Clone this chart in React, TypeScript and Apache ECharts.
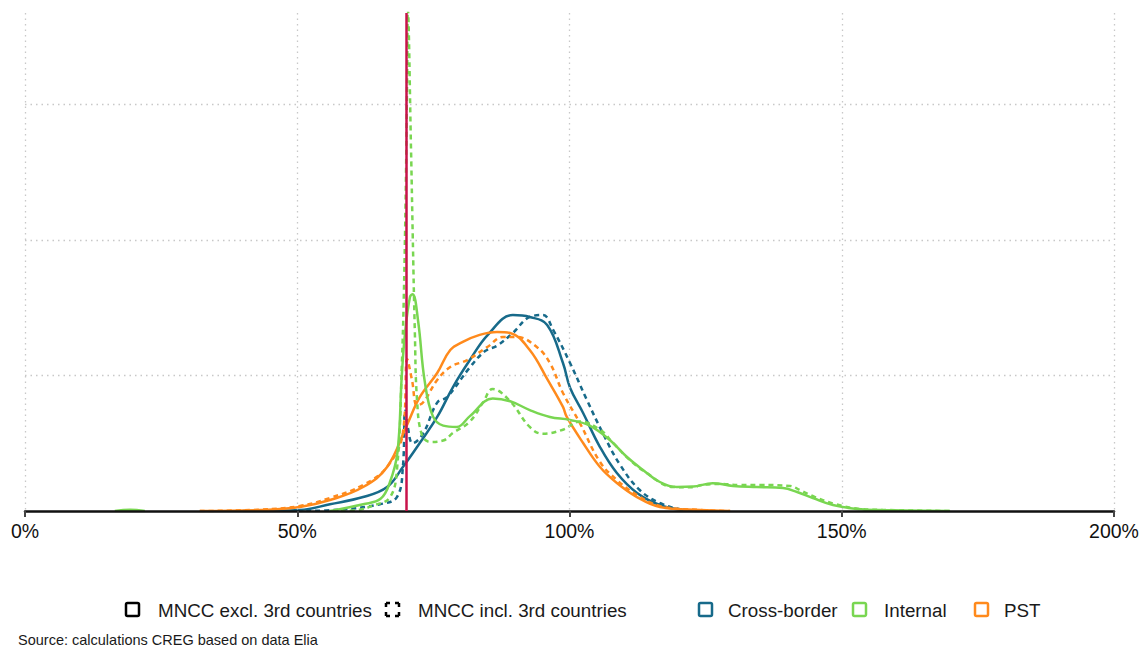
import React, { useEffect, useRef } from "react";
import * as echarts from "echarts";

// x in %, y = density (arbitrary units, one horizontal gridline per unit)
const crossBorderExcl: [number, number][] = [
  [40, 0], [50.5, 0.008], [56.0, 0.05], [62.1, 0.103], [66.5, 0.177], [69.4, 0.325],
  [72.5, 0.502], [75.7, 0.694], [78.6, 0.915], [81.7, 1.114], [85.0, 1.3],
  [89.6, 1.446], [92.7, 1.432], [95.9, 1.373], [98.8, 1.092], [100.1, 0.91],
  [102.5, 0.723], [105.6, 0.472], [108.7, 0.28], [112.4, 0.133], [116.6, 0.044],
  [120.8, 0.007], [124, 0],
];
const crossBorderIncl: [number, number][] = [
  [50, 0], [57.8, 0.01], [65.2, 0.05], [68.3, 0.103], [69.4, 0.325], [69.8, 0.74], [70.3, 0.62],
  [71.2, 0.5], [73.1, 0.57], [75.7, 0.8], [77.5, 0.84], [81.7, 1.06], [84.5, 1.18],
  [86.7, 1.22], [89.6, 1.314], [92.7, 1.432], [95.1, 1.446], [97.0, 1.336],
  [100.1, 1.092], [103.2, 0.819], [106.1, 0.576], [109.3, 0.34], [112.9, 0.155],
  [116.6, 0.059], [121.2, 0.007], [124, 0],
];
const internalExcl: [number | string, number | string][] = [
  [16.5, 0], [19.3, 0.01], [22, 0], [30, "-"], [56.0, 0], [62.1, 0.05], [65.3, 0.09],
  [67.0, 0.21], [68.4, 0.43], [69.2, 1.0], [69.8, 1.314], [70.7, 1.58], [71.2, 1.6],
  [72.2, 1.4], [73.4, 0.96], [74.9, 0.7], [76.8, 0.63], [79.3, 0.62],
  [81.7, 0.7], [85.9, 0.83], [89.1, 0.81], [92.7, 0.745], [96.4, 0.694],
  [100.1, 0.672], [103.7, 0.63], [107.4, 0.524], [110.5, 0.4], [113.5, 0.303],
  [116.6, 0.214], [119.7, 0.177], [122.7, 0.18], [126.3, 0.205], [130.0, 0.185],
  [134.4, 0.177], [139.2, 0.17], [141.8, 0.14], [144.7, 0.096], [148.4, 0.044],
  [152.8, 0.015], [157.5, 0.007], [169.9, 0],
];
const internalIncl: [number, number][] = [
  [58, 0], [61.5, 0.01], [63.9, 0.04], [67.0, 0.1], [68.3, 0.3], [69.2, 1.063],
  [69.8, 2.052], [70.2, 3.277], [70.3, 3.7], [70.9, 2.66], [71.2, 2.052],
  [71.6, 1.314], [72.0, 0.819], [72.9, 0.56], [74.4, 0.51], [76.8, 0.52],
  [78.6, 0.576], [81.7, 0.66], [84.1, 0.8], [85.9, 0.9], [89.1, 0.81], [92.7, 0.62],
  [95.1, 0.57], [98.8, 0.6], [101.9, 0.66], [105.6, 0.6], [108.0, 0.502],
  [111.1, 0.376], [114.2, 0.28], [119.0, 0.177], [122.7, 0.175], [124.0, 0.19],
  [127.6, 0.2], [131.3, 0.192], [135.0, 0.192], [140.5, 0.185], [142.3, 0.155],
  [145.1, 0.103], [148.7, 0.052], [153.3, 0.015], [158.8, 0.007], [169.9, 0],
];
const pstExcl: [number, number][] = [
  [32.1, 0], [43.2, 0.007], [50.5, 0.03], [56.0, 0.081], [62.1, 0.177],
  [66.5, 0.325], [70.1, 0.63], [72.5, 0.84], [75.7, 1.018], [78.1, 1.188], [80.5, 1.25],
  [83.5, 1.3], [86.7, 1.321], [89.1, 1.314], [92.7, 1.188], [96.0, 0.967], [98.8, 0.768],
  [99.5, 0.694], [102.5, 0.502], [105.6, 0.325], [108.7, 0.207], [112.4, 0.103],
  [116.6, 0.03], [124.0, 0.007], [129.5, 0],
];
const pstIncl: [number, number][] = [
  [32.1, 0], [43.2, 0.01], [50.5, 0.037], [56.0, 0.096], [62.1, 0.192],
  [66.5, 0.325], [69.4, 0.576], [70.2, 1.12], [71.1, 0.96], [72.0, 0.78],
  [73.1, 0.8], [75.7, 0.967], [78.1, 1.063], [81.2, 1.114], [84.9, 1.21],
  [87.8, 1.284], [90.3, 1.284], [94.0, 1.21], [96.4, 1.092], [98.8, 0.871],
  [101.9, 0.649], [105.6, 0.362], [108.7, 0.229], [112.4, 0.118], [116.6, 0.037],
  [124, 0.007], [129.5, 0],
];
const thresholdX = 70;
const xTickValues = [0, 50, 100, 150, 200];
const legendStyleLabels = ["MNCC excl. 3rd countries", "MNCC incl. 3rd countries"];
const legendColorLabels = ["Cross-border", "Internal", "PST"];
const sourceText = "Source: calculations CREG based on data Elia";

const COLORS = { cross: "#176a8a", internal: "#79d651", pst: "#ff8a1c", red: "#c8134b" };
const FONT = "'Liberation Sans', Arial, sans-serif";

export default function App() {
  const ref = useRef<HTMLDivElement>(null);
  useEffect(() => {
    document.body.style.margin = "0";
    const chart = echarts.init(ref.current!, null, { renderer: "svg" });
    const mk = (name: string, data: any[], color: string, dashed: boolean, extra: any = {}) => ({
      name,
      type: "line",
      data,
      showSymbol: false,
      symbol: "none",
      smooth: 0.4,
      connectNulls: false,
      lineStyle: { color, width: 2.5, type: dashed ? [5, 4] : "solid" },
      z: 3,
      ...extra,
    });
    const colorItems = [
      { label: legendColorLabels[0], color: COLORS.cross, x: 699, tx: 728 },
      { label: legendColorLabels[1], color: COLORS.internal, x: 853, tx: 884 },
      { label: legendColorLabels[2], color: COLORS.pst, x: 975, tx: 1004 },
    ];
    const legendY = 603;
    const lf = `18.8px ${FONT}`;
    const graphic: any[] = [
      { type: "rect", shape: { x: 126, y: legendY, width: 13, height: 13, r: 1.5 }, style: { fill: "none", stroke: "#000", lineWidth: 2.5 } },
      { type: "text", x: 158, y: legendY + 7, style: { text: legendStyleLabels[0], font: lf, fill: "#1a1a1a", textVerticalAlign: "middle" } },
      { type: "rect", shape: { x: 386, y: legendY, width: 13, height: 13 }, style: { fill: "none", stroke: "#000", lineWidth: 2.5, lineDash: [4, 5, 4, 0] } },
      { type: "text", x: 418, y: legendY + 7, style: { text: legendStyleLabels[1], font: lf, fill: "#1a1a1a", textVerticalAlign: "middle" } },
      ...colorItems.flatMap((c) => [
        { type: "rect", shape: { x: c.x, y: legendY, width: 13, height: 13, r: 1.5 }, style: { fill: "none", stroke: c.color, lineWidth: 2.5 } },
        { type: "text", x: c.tx, y: legendY + 7, style: { text: c.label, font: lf, fill: "#1a1a1a", textVerticalAlign: "middle" } },
      ]),
      { type: "text", x: 18, y: 640, style: { text: sourceText, font: `14.5px ${FONT}`, fill: "#1a1a1a", textVerticalAlign: "middle" } },
    ];
    chart.setOption({
      animation: false,
      grid: { left: 25, right: 33, top: 13, bottom: 139, containLabel: false, outerBoundsMode: "none" },
      xAxis: {
        type: "value",
        min: xTickValues[0],
        max: xTickValues[xTickValues.length - 1],
        interval: 50,
        z: 4,
        axisLine: { show: true, onZero: false, lineStyle: { color: "#111", width: 2.5 } },
        axisTick: { show: true, length: 6, lineStyle: { color: "#444", width: 2 } },
        axisLabel: { formatter: "{value}%", fontSize: 19.5, color: "#111", fontFamily: FONT, margin: 10 },
        splitLine: { show: true, lineStyle: { type: [1.5, 4], color: "#c8c8c8", width: 1.3 } },
      },
      yAxis: {
        type: "value",
        min: 0,
        max: 3.675,
        interval: 1,
        axisLine: { show: false },
        axisTick: { show: false },
        axisLabel: { show: false },
        splitLine: { show: true, showMinLine: false, showMaxLine: false, lineStyle: { type: [1.5, 4], color: "#c8c8c8", width: 1.3 } },
      },
      series: [
        mk("Cross-border excl", crossBorderExcl, COLORS.cross, false),
        mk("Cross-border incl", crossBorderIncl, COLORS.cross, true),
        mk("PST excl", pstExcl, COLORS.pst, false),
        mk("PST incl", pstIncl, COLORS.pst, true),
        mk("Internal excl", internalExcl, COLORS.internal, false),
        mk("Internal incl", internalIncl, COLORS.internal, true, {
          markLine: {
            silent: true,
            symbol: "none",
            label: { show: false },
            lineStyle: { color: COLORS.red, width: 2.5, type: "solid" },
            data: [{ xAxis: thresholdX }],
            z: 5,
          },
        }),
      ],
      graphic,
    });
    return () => chart.dispose();
  }, []);
  return <div ref={ref} style={{ width: 1147, height: 650 }} />;
}
